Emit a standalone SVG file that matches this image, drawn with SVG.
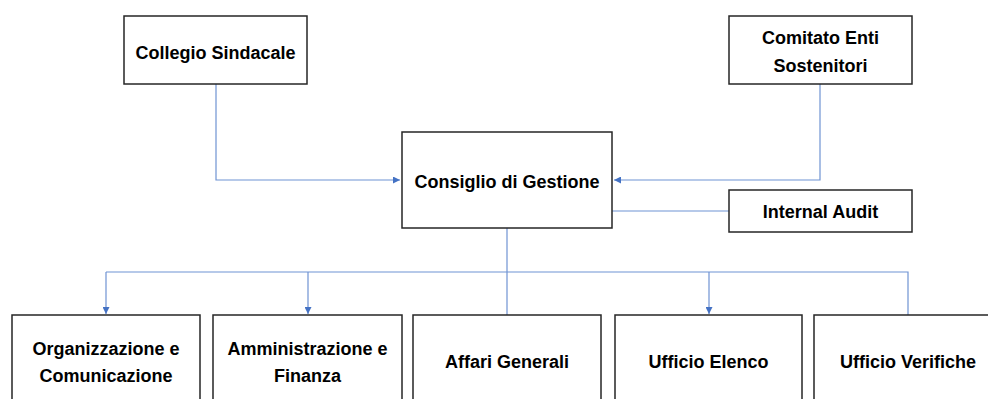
<svg xmlns="http://www.w3.org/2000/svg" width="988" height="399" viewBox="0 0 988 399">
<style>
.box{fill:#fff;stroke:#262626;stroke-width:1.5}
.t{font-family:"Liberation Sans",Arial,sans-serif;font-weight:bold;font-size:18px;fill:#000;text-anchor:middle}
.c{fill:none;stroke:#6f93d3;stroke-width:1.2}
</style>
<defs>
<marker id="ah" viewBox="0 0 10 10" refX="10" refY="5" markerWidth="7" markerHeight="7" markerUnits="userSpaceOnUse" orient="auto">
<path d="M0,0 L10,5 L0,10 z" fill="#4472c4"/>
</marker>
</defs>
<rect width="988" height="399" fill="#fff"/>
<g id="connectors">
<path class="c" d="M216,84 V180 H400" marker-end="url(#ah)"/>
<path class="c" d="M820,84 V180 H614" marker-end="url(#ah)"/>
<path class="c" d="M612,211 H729"/>
<path class="c" d="M507,228 V315"/>
<path class="c" d="M106,272 H908 V315"/>
<path class="c" d="M106,272 V314" marker-end="url(#ah)"/>
<path class="c" d="M308,272 V314" marker-end="url(#ah)"/>
<path class="c" d="M709,272 V314" marker-end="url(#ah)"/>
</g>
<g id="collegio">
<rect class="box" x="124" y="16" width="183" height="68"/>
<text class="t" x="215.5" y="59">Collegio Sindacale</text>
</g>
<g id="comitato">
<rect class="box" x="729" y="16" width="183" height="68"/>
<text class="t" x="820.5" y="44">Comitato Enti</text>
<text class="t" x="820.5" y="72">Sostenitori</text>
</g>
<g id="consiglio">
<rect class="box" x="402" y="132" width="210" height="96"/>
<text class="t" x="507" y="188">Consiglio di Gestione</text>
</g>
<g id="audit">
<rect class="box" x="729" y="190" width="183" height="42"/>
<text class="t" x="820.5" y="218">Internal Audit</text>
</g>
<g id="organizzazione">
<rect class="box" x="12" y="315" width="188" height="100"/>
<text class="t" x="106" y="355">Organizzazione e</text>
<text class="t" x="106" y="382">Comunicazione</text>
</g>
<g id="amministrazione">
<rect class="box" x="213" y="315" width="189" height="100"/>
<text class="t" x="307.5" y="355">Amministrazione e</text>
<text class="t" x="307.5" y="382">Finanza</text>
</g>
<g id="affari">
<rect class="box" x="413" y="315" width="188" height="100"/>
<text class="t" x="507" y="368">Affari Generali</text>
</g>
<g id="elenco">
<rect class="box" x="615" y="315" width="187" height="100"/>
<text class="t" x="708.5" y="368">Ufficio Elenco</text>
</g>
<g id="verifiche">
<rect class="box" x="814" y="315" width="190" height="100"/>
<text class="t" x="908" y="368">Ufficio Verifiche</text>
</g>
</svg>
